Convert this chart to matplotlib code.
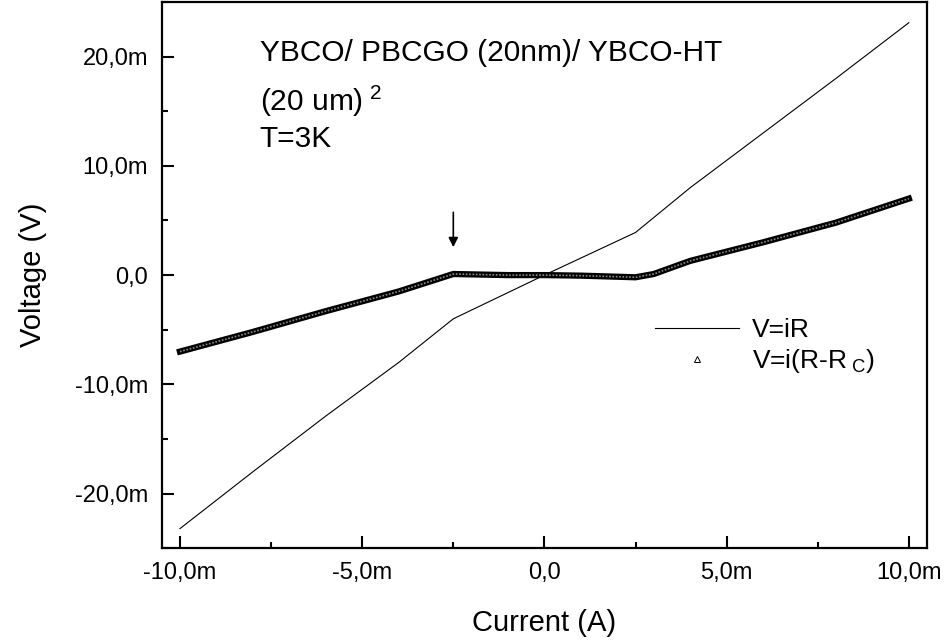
import matplotlib
matplotlib.use("Agg")
import matplotlib.pyplot as plt
from matplotlib.lines import Line2D
from matplotlib.ticker import MultipleLocator, FuncFormatter

# V=iR curve (current in A, voltage in V)
current_ir = [-10e-3, -8e-3, -6e-3, -4e-3, -2.5e-3, 0.0, 2.5e-3, 4e-3, 6e-3, 8e-3, 10e-3]
voltage_ir = [-23.2e-3, -18.0e-3, -12.9e-3, -8.0e-3, -4.0e-3, 0.0, 3.9e-3, 8.0e-3, 13.0e-3, 18.0e-3, 23.1e-3]

# V=i(R-Rc) curve
current_rc = [-10e-3, -8e-3, -6e-3, -4e-3, -2.5e-3, -1e-3, 0.0, 1e-3, 2.5e-3, 3e-3, 4e-3, 6e-3, 8e-3, 10e-3]
voltage_rc = [-7.0e-3, -5.2e-3, -3.3e-3, -1.5e-3, 0.1e-3, 0.0, 0.0, -0.05e-3, -0.2e-3, 0.1e-3, 1.3e-3, 3.0e-3, 4.8e-3, 7.0e-3]

arrow_x = -2.5e-3
arrow_from = 6.0e-3
arrow_to = 2.3e-3

plt.rcParams['font.family'] = ['Liberation Sans', 'DejaVu Sans']
plt.rcParams['mathtext.fontset'] = 'custom'
plt.rcParams['mathtext.rm'] = 'Liberation Sans'
plt.rcParams['mathtext.it'] = 'Liberation Sans'


def milli(v, pos):
    if abs(v) < 1e-12:
        return "0,0"
    return f"{v * 1e3:.1f}m".replace(".", ",")


fig = plt.figure(figsize=(9.46, 6.42), dpi=100)
ax = fig.add_axes([0.171, 0.146, 0.809, 0.851])

ax.plot(current_ir, voltage_ir, color='black', lw=0.8)
ax.plot(current_rc, voltage_rc, color='black', lw=4.5, solid_joinstyle='round')
ax.plot(current_rc, voltage_rc, color='#8a8a8a', lw=1.2, ls=(0, (1, 1)))

ax.annotate('', xy=(arrow_x, arrow_to), xytext=(arrow_x, arrow_from),
            arrowprops=dict(arrowstyle='-|>', color='black', lw=1.2, mutation_scale=14))

ax.set_xlim(-10.5e-3, 10.5e-3)
ax.set_ylim(-25e-3, 25e-3)
ax.xaxis.set_major_locator(MultipleLocator(5e-3))
ax.xaxis.set_minor_locator(MultipleLocator(2.5e-3))
ax.yaxis.set_major_locator(MultipleLocator(10e-3))
ax.yaxis.set_minor_locator(MultipleLocator(5e-3))
ax.xaxis.set_major_formatter(FuncFormatter(milli))
ax.yaxis.set_major_formatter(FuncFormatter(milli))
ax.tick_params(which='both', direction='in', top=False, right=False, width=1.5, labelsize=17)
ax.tick_params(which='major', length=8.5, pad=10)
ax.tick_params(which='minor', length=4.5)
for s in ax.spines.values():
    s.set_linewidth(1.6)

ax.set_xlabel('Current (A)', fontsize=21, labelpad=18)
ax.set_ylabel('Voltage (V)', fontsize=21, labelpad=20)

ax.text(0.128, 0.892, 'YBCO/ PBCGO (20nm)/ YBCO-HT', transform=ax.transAxes, fontsize=21.5, va='baseline')
ax.text(0.128, 0.800, r'(20 um)$^{\ 2}$', transform=ax.transAxes, fontsize=21.5, va='baseline')
ax.text(0.128, 0.734, 'T=3K', transform=ax.transAxes, fontsize=21.5, va='baseline')

handles = [Line2D([], [], color='black', lw=0.8),
           Line2D([], [], color='black', ls='none', marker='^', markersize=4,
                  markerfacecolor='white', markeredgewidth=0.7)]
ax.legend(handles, ['V=iR', r'V=i(R-R$_{\ \rm C}$)'], loc='center left',
          bbox_to_anchor=(0.613, 0.369), frameon=False, fontsize=19,
          handlelength=3.2, handletextpad=0.5, labelspacing=0.2)

fig.savefig('out.png', dpi=100)
